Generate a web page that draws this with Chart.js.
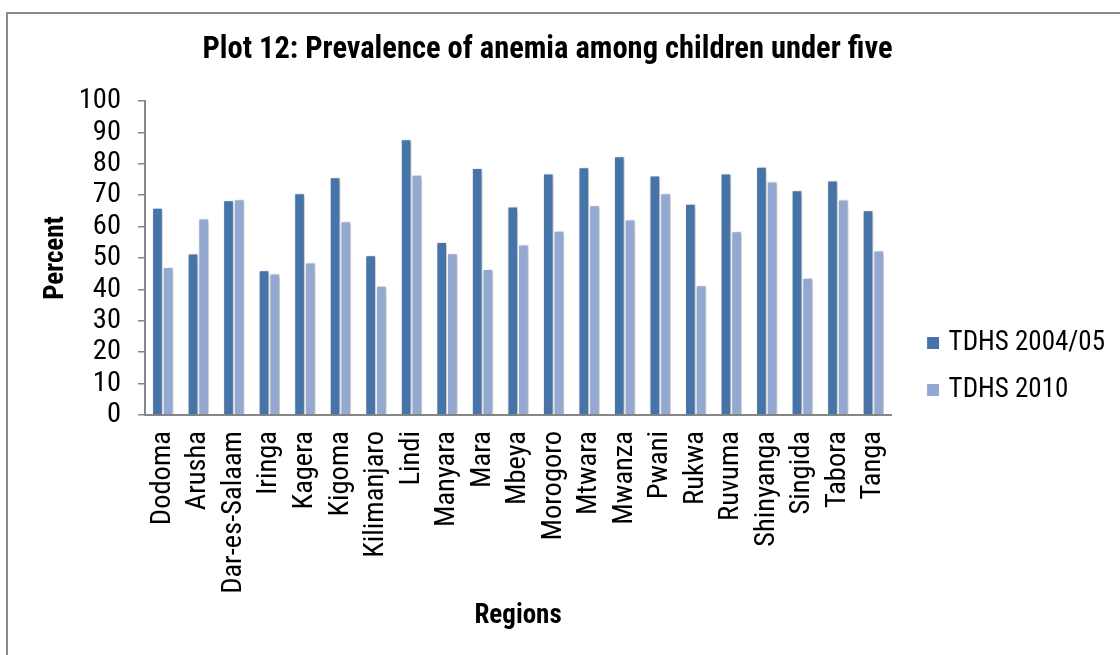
<!DOCTYPE html>
<html>
<head>
<meta charset="utf-8">
<script src="https://cdn.jsdelivr.net/npm/chart.js@4/dist/chart.umd.min.js"></script>
<style>
  html, body { margin: 0; padding: 0; background: #fff; overflow: hidden; width: 1120px; height: 655px; }
  #frame { position: absolute; left: 6px; top: 12px; width: 1200px; height: 800px; border: 2px solid #8a8a8a; }
  #c { position: absolute; left: -20px; top: 0; }
</style>
</head>
<body>
<div id="frame"></div>
<canvas id="c" width="1140" height="655"></canvas>
<script>
// Regions of Tanzania and anemia prevalence (%) in children under five
const regions = ['Dodoma', 'Arusha', 'Dar-es-Salaam', 'Iringa', 'Kagera', 'Kigoma', 'Kilimanjaro',
  'Lindi', 'Manyara', 'Mara', 'Mbeya', 'Morogoro', 'Mtwara', 'Mwanza', 'Pwani', 'Rukwa',
  'Ruvuma', 'Shinyanga', 'Singida', 'Tabora', 'Tanga'];
const tdhs2004 = [66.0, 51.4, 68.4, 46.1, 70.6, 75.7, 50.9, 87.8, 55.1, 78.7, 66.4,
  76.9, 78.9, 82.4, 76.3, 67.3, 76.9, 79.1, 71.6, 74.7, 65.2];
const tdhs2010 = [47.1, 62.6, 68.7, 45.1, 48.6, 61.7, 41.2, 76.5, 51.5, 46.5, 54.3,
  58.7, 66.8, 62.3, 70.6, 41.3, 58.5, 74.4, 43.7, 68.6, 52.4];
const seriesNames = ['TDHS 2004/05', 'TDHS 2010'];
const yTicks = [0, 10, 20, 30, 40, 50, 60, 70, 80, 90, 100];

const FONT = "'Roboto Condensed', 'Open Sans', sans-serif";
const AXIS_GRAY = '#868686';

// soft drop shadow behind the bars
const barShadow = {
  id: 'barShadow',
  beforeDatasetsDraw(chart) {
    const ctx = chart.ctx;
    ctx.save();
    ctx.shadowColor = 'rgba(0,0,0,0.28)';
    ctx.shadowBlur = 4;
    ctx.shadowOffsetX = 2;
    ctx.shadowOffsetY = 1;
  },
  afterDatasetsDraw(chart) {
    chart.ctx.restore();
  }
};

new Chart(document.getElementById('c'), {
  type: 'bar',
  data: {
    labels: regions,
    datasets: [
      { label: seriesNames[0], data: tdhs2004, backgroundColor: '#4673a8', borderColor: '#ffffff', borderWidth: 1 },
      { label: seriesNames[1], data: tdhs2010, backgroundColor: '#94a9d1', borderColor: '#ffffff', borderWidth: 1 }
    ]
  },
  options: {
    responsive: false,
    animation: false,
    devicePixelRatio: 1,
    layout: { padding: { left: 0, right: 5, top: 0, bottom: 0 } },
    datasets: { bar: { categoryPercentage: 0.6, barPercentage: 1.0 } },
    plugins: {
      title: {
        display: true,
        text: 'Plot 12: Prevalence of anemia among children under five',
        color: '#000',
        font: { family: FONT, size: 30.5, weight: 'bold' },
        padding: { top: 32, bottom: 32.4 }
      },
      legend: {
        position: 'right',
        maxWidth: 320,
        title: { display: true, text: '', font: { size: 10 }, padding: { top: 66, bottom: 0 } },
        labels: {
          color: '#000',
          font: { family: FONT, size: 27 },
          usePointStyle: true,
          pointStyle: 'rect',
          boxWidth: 4,
          boxHeight: 13,
          padding: 20
        }
      },
      tooltip: { enabled: false }
    },
    scales: {
      x: {
        offset: true,
        grid: { display: false, drawTicks: false },
        border: { display: true, color: AXIS_GRAY, width: 2 },
        ticks: {
          autoSkip: false, minRotation: 90, maxRotation: 90, padding: 16,
          color: '#000', font: { family: FONT, size: 28.5 }
        },
        title: {
          display: true, text: 'Regions', color: '#000',
          font: { family: FONT, size: 27, weight: 'bold' },
          padding: { top: 0, bottom: 23 }
        },
        afterFit(s) { s.height = 240; }
      },
      y: {
        min: 0, max: 100,
        afterBuildTicks(s) { s.ticks = yTicks.map(v => ({ value: v })); },
        grid: { drawOnChartArea: false, drawTicks: true, tickLength: 7, color: AXIS_GRAY, lineWidth: 1.5 },
        border: { display: true, color: AXIS_GRAY, width: 2 },
        ticks: { autoSkip: false, padding: 17, color: '#000', font: { family: FONT, size: 28.5 } },
        title: {
          display: true, text: 'Percent', color: '#000',
          font: { family: FONT, size: 27, weight: 'bold' },
          padding: { top: 60, bottom: 0 }
        },
        afterFit(s) { s.width = 165; }
      },
      // empty spacer between the plot area and the legend
      gap: {
        type: 'linear', position: 'right', display: true,
        grid: { display: false }, border: { display: false },
        ticks: { display: false }, title: { display: false },
        afterFit(s) { s.width = 20; }
      }
    }
  },
  plugins: [barShadow]
});
</script>
</body>
</html>
